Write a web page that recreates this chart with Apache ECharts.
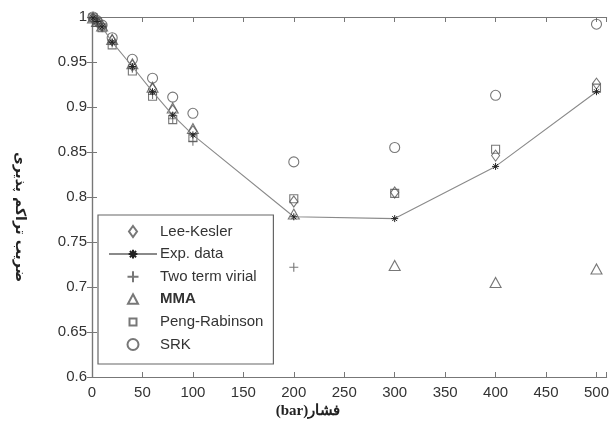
<!DOCTYPE html>
<html>
<head>
<meta charset="utf-8">
<script src="https://cdn.jsdelivr.net/npm/echarts@6/dist/echarts.min.js"></script>
<style>
	html, body { margin: 0; padding: 0; background: #fff; }
	#chart { width: 612px; height: 425px; }
</style>
</head>
<body>
<div id="chart"></div>
<script>
// فشار (bar)
let pressure = [1, 5, 10, 20, 40, 60, 80, 100, 200, 300, 400, 500]
let leeKesler = [0.999, 0.995, 0.990, 0.974, 0.946, 0.920, 0.896, 0.873, 0.795, 0.805, 0.846, 0.926]
let expData = [0.999, 0.995, 0.989, 0.972, 0.945, 0.917, 0.891, 0.869, 0.778, 0.776, 0.834, 0.917]
let twoTermVirial = [0.999, 0.995, 0.989, 0.971, 0.943, 0.914, 0.887, 0.862, 0.722, null, null, null]
let mma = [0.999, 0.995, 0.990, 0.975, 0.948, 0.922, 0.899, 0.876, 0.781, 0.724, 0.705, 0.720]
let pengRabinson = [0.999, 0.994, 0.988, 0.969, 0.940, 0.912, 0.886, 0.866, 0.798, 0.804, 0.853, 0.921]
let srk = [1.000, 0.996, 0.991, 0.977, 0.953, 0.932, 0.911, 0.893, 0.839, 0.855, 0.913, 0.992]

let xTicks = [0, 50, 100, 150, 200, 250, 300, 350, 400, 450, 500]
let yTicks = [0.6, 0.65, 0.7, 0.75, 0.8, 0.85, 0.9, 0.95, 1]

let plusPath = "path://M5,0L5,10M0,5L10,5"
let starPath = "path://M5,0L5,10M0,5L10,5M1.5,1.5L8.5,8.5M8.5,1.5L1.5,8.5"
// legend icons: the zero length strokes only pad the box so the shape keeps its size
let diamondIcon = "path://M5.5,0L9.5,5.5L5.5,11L1.5,5.5ZM0,0L0,0M11,11L11,11"
let triangleIcon = "path://M5.5,0.5L10.5,10L0.5,10ZM0,0L0,0M11,11L11,11"
let rectIcon = "path://M2,2L9,2L9,9L2,9ZM0,0L0,0M11,11L11,11"
let starIcon = "path://M5,1.5L5,8.5M1.5,5L8.5,5M2.5,2.5L7.5,7.5M7.5,2.5L2.5,7.5M0,0L0,0M10,10L10,10"

function pairs(values) {
	let out = []
	for (let i = 0; i < pressure.length; i++) {
		if (values[i] != null) {
			out.push([pressure[i], values[i]])
		}
	}
	return out
}

function markerSeries(name, values, symbol, size) {
	return {
		name: name,
		type: "scatter",
		data: pairs(values),
		symbol: symbol,
		symbolSize: size,
		symbolKeepAspect: true,
		itemStyle: {
			color: "rgba(0,0,0,0)",
			borderColor: "#555",
			borderWidth: 1.1
		},
		z: 3
	}
}

let axisLine = {show: true, lineStyle: {color: "#777", width: 1.2}}
let axisTick = {show: true, inside: true, length: 5, lineStyle: {color: "#777"}}
let labelFont = {fontFamily: "Liberation Sans, Arial, sans-serif", fontSize: 15, color: "#333"}

let chart = echarts.init(document.getElementById("chart"))
chart.setOption({
	animation: false,
	grid: {left: 92, top: 17, right: 5, bottom: 48, containLabel: false},
	xAxis: [
		{
			type: "value", min: 0, max: 510, interval: 50, position: "bottom",
			axisLine: axisLine, axisTick: axisTick, splitLine: {show: false},
			axisLabel: Object.assign({
				margin: 8,
				formatter: function (v) {
					return xTicks.indexOf(v) >= 0 ? String(v) : ""
				}
			}, labelFont)
		},
		{
			type: "value", min: 0, max: 510, interval: 50, position: "top",
			axisLine: axisLine, axisTick: axisTick, splitLine: {show: false},
			axisLabel: {show: false}
		}
	],
	yAxis: [
		{
			type: "value", min: 0.6, max: 1, interval: 0.05, position: "left",
			axisLine: axisLine, axisTick: axisTick, splitLine: {show: false},
			axisLabel: Object.assign({
				margin: 5,
				formatter: function (v) {
					let r = Math.round(v * 100) / 100
					return yTicks.indexOf(r) >= 0 ? String(r) : ""
				}
			}, labelFont)
		},
		{
			type: "value", min: 0.6, max: 1, interval: 0.05, position: "right",
			axisLine: axisLine, axisTick: axisTick, splitLine: {show: false},
			axisLabel: {show: false}
		}
	],
	legend: {
		orient: "vertical",
		left: 98,
		top: 215,
		width: 170,
		padding: [9, 10, 12, 10],
		itemWidth: 48,
		itemHeight: 11,
		itemGap: 7.6,
		symbolKeepAspect: true,
		backgroundColor: "#fff",
		borderColor: "#666",
		borderWidth: 1.2,
		borderRadius: 0,
		data: [
			{name: "Lee-Kesler", icon: diamondIcon},
			{name: "Exp. data"},
			{name: "Two term virial", icon: plusPath},
			{name: "MMA", icon: triangleIcon},
			{name: "Peng-Rabinson", icon: rectIcon},
			{name: "SRK", icon: "circle"}
		],
		formatter: function (name) {
			if (name == "MMA") {
				return "{b|MMA}"
			}
			return name
		},
		textStyle: {
			fontFamily: "Liberation Sans, Arial, sans-serif",
			fontSize: 15,
			color: "#333",
			padding: [0, 0, 0, -2],
			rich: {
				b: {fontFamily: "Liberation Sans, Arial, sans-serif", fontSize: 15, fontWeight: "bold", color: "#333"}
			}
		}
	},
	graphic: [
		{
			type: "text",
			x: 20,
			y: 217,
			rotation: -Math.PI / 2,
			style: {
				text: "ضریب تراکم پذیری",
				font: "bold 14px 'DejaVu Sans', 'Noto Sans', sans-serif",
				fill: "#222",
				align: "center",
				verticalAlign: "middle"
			}
		},
		{
			type: "text",
			x: 308,
			y: 411,
			style: {
				text: "(bar)فشار",
				font: "bold 15px 'Liberation Serif', 'DejaVu Serif', serif",
				fill: "#222",
				align: "center",
				verticalAlign: "middle"
			}
		}
	],
	series: [
		markerSeries("Lee-Kesler", leeKesler, "diamond", [8, 11]),
		{
			name: "Exp. data",
			type: "line",
			data: pairs(expData),
			symbol: starPath,
			symbolSize: 7,
			showAllSymbol: true,
			lineStyle: {color: "#8a8a8a", width: 1.1},
			itemStyle: {color: "rgba(0,0,0,0)", borderColor: "#222", borderWidth: 1},
			z: 4
		},
		markerSeries("Two term virial", twoTermVirial, plusPath, 9),
		markerSeries("MMA", mma, "triangle", [11, 10]),
		markerSeries("Peng-Rabinson", pengRabinson, "rect", 8),
		markerSeries("SRK", srk, "circle", 10)
	]
})
</script>
</body>
</html>
